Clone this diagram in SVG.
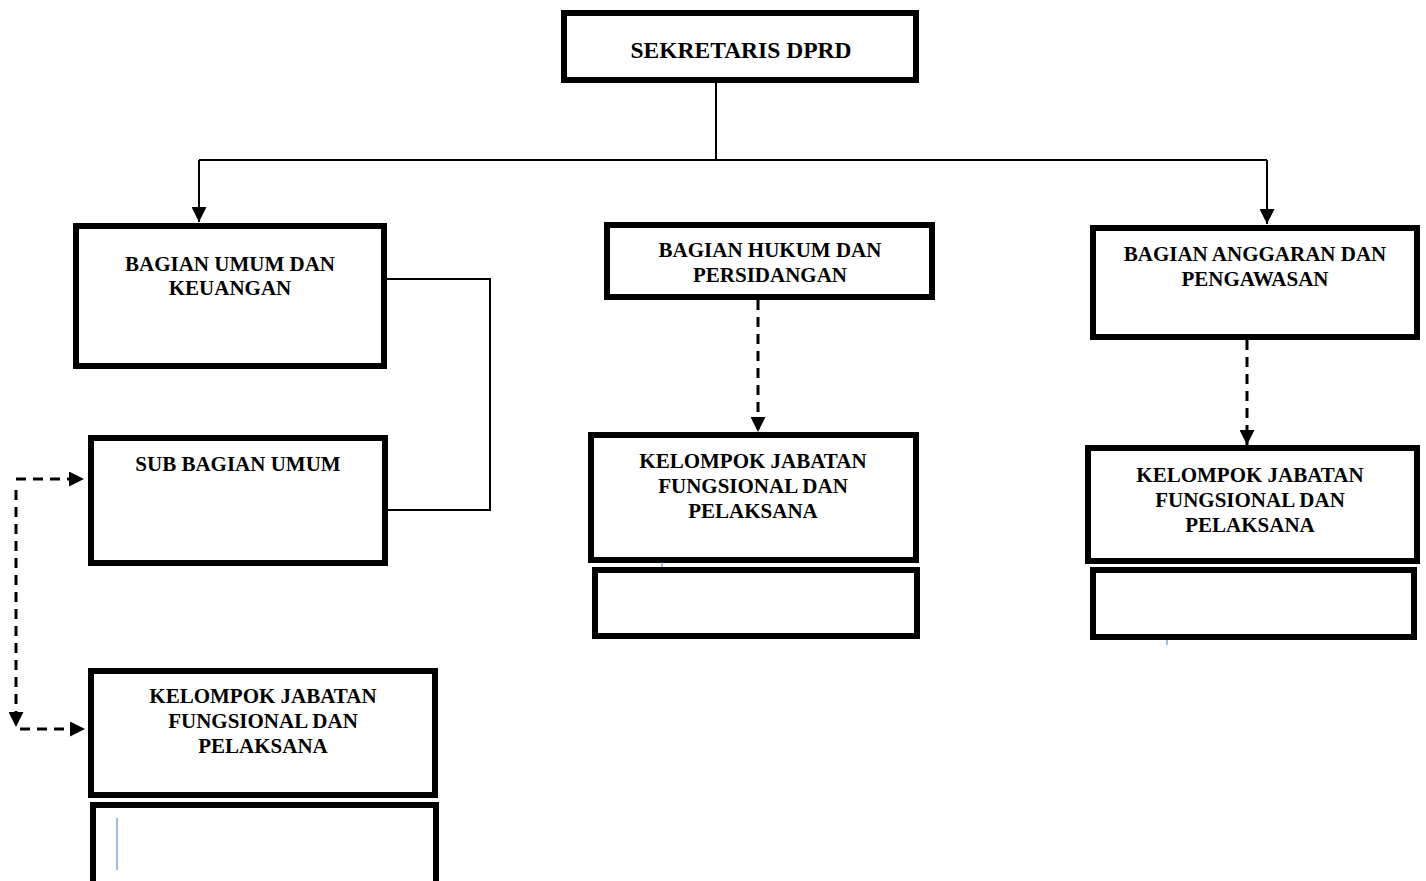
<svg xmlns="http://www.w3.org/2000/svg" width="1426" height="881" viewBox="0 0 1426 881">
<style>
.box{fill:#fff;stroke:#000;stroke-width:6}
.t{font-family:"Liberation Serif","Times New Roman",serif;font-weight:bold;font-size:21px;fill:#000;text-anchor:middle}
.ln{fill:none;stroke:#000;stroke-width:2}
.dash{fill:none;stroke:#000;stroke-width:3;stroke-dasharray:10 7}
</style>
<defs>
<marker id="ah" viewBox="0 0 10 10" refX="10" refY="5" markerWidth="15" markerHeight="15" markerUnits="userSpaceOnUse" orient="auto">
<path d="M0,0 L10,5 L0,10 Z" fill="#000"/>
</marker>
</defs>
<rect width="1426" height="881" fill="#fff"/>
<g id="connectors">
<path class="ln" d="M716,82 V160"/>
<path class="ln" d="M199,160 H1267"/>
<path class="ln" d="M199,160 V222" marker-end="url(#ah)"/>
<path class="ln" d="M1267,160 V224" marker-end="url(#ah)"/>
<path class="ln" d="M387,279 H490 V510 H387"/>
<path class="dash" d="M758,300 V432" marker-end="url(#ah)"/>
<path class="dash" d="M1247,340 V445" marker-end="url(#ah)"/>
<path class="dash" d="M16,479 H84" marker-end="url(#ah)"/>
<path class="dash" d="M16,490 V727" marker-end="url(#ah)"/>
<path class="dash" d="M20,729 H85" marker-end="url(#ah)"/>
</g>
<g id="sekretaris">
<rect class="box" x="564" y="13" width="352" height="67"/>
<text class="t" x="741" y="58" style="font-size:23.5px">SEKRETARIS DPRD</text>
</g>
<g id="umum-keuangan">
<rect class="box" x="76" y="226" width="308" height="140"/>
<text class="t" x="230" y="271">BAGIAN UMUM DAN</text>
<text class="t" x="230" y="295">KEUANGAN</text>
</g>
<g id="sub-umum">
<rect class="box" x="91" y="438" width="294" height="125"/>
<text class="t" x="238" y="471">SUB BAGIAN UMUM</text>
</g>
<g id="kjf-left">
<rect class="box" x="91" y="671" width="344" height="124"/>
<text class="t" x="263" y="703">KELOMPOK JABATAN</text>
<text class="t" x="263" y="728">FUNGSIONAL DAN</text>
<text class="t" x="263" y="753">PELAKSANA</text>
</g>
<g id="kjf-left-sub">
<rect class="box" x="93" y="805" width="343" height="79"/>
<line x1="117" y1="818" x2="117" y2="870" stroke="#7fa6d8" stroke-width="1.5"/>
</g>
<g id="hukum">
<rect class="box" x="607" y="225" width="325" height="72"/>
<text class="t" x="770" y="257">BAGIAN HUKUM DAN</text>
<text class="t" x="770" y="282">PERSIDANGAN</text>
</g>
<g id="kjf-mid">
<rect class="box" x="591" y="435" width="325" height="125"/>
<text class="t" x="753" y="468">KELOMPOK JABATAN</text>
<text class="t" x="753" y="493">FUNGSIONAL DAN</text>
<text class="t" x="753" y="518">PELAKSANA</text>
</g>
<g id="kjf-mid-sub">
<rect class="box" x="595" y="570" width="322" height="66"/>
<line x1="662" y1="562" x2="662" y2="567" stroke="#4a7cc0" stroke-width="1"/>
</g>
<g id="anggaran">
<rect class="box" x="1093" y="228" width="324" height="109"/>
<text class="t" x="1255" y="261">BAGIAN ANGGARAN DAN</text>
<text class="t" x="1255" y="286">PENGAWASAN</text>
</g>
<g id="kjf-right">
<rect class="box" x="1088" y="448" width="329" height="113"/>
<text class="t" x="1250" y="482">KELOMPOK JABATAN</text>
<text class="t" x="1250" y="507">FUNGSIONAL DAN</text>
<text class="t" x="1250" y="532">PELAKSANA</text>
</g>
<g id="kjf-right-sub">
<rect class="box" x="1093" y="570" width="321" height="67"/>
<line x1="1167" y1="640" x2="1167" y2="645" stroke="#4a7cc0" stroke-width="1"/>
</g>
</svg>
